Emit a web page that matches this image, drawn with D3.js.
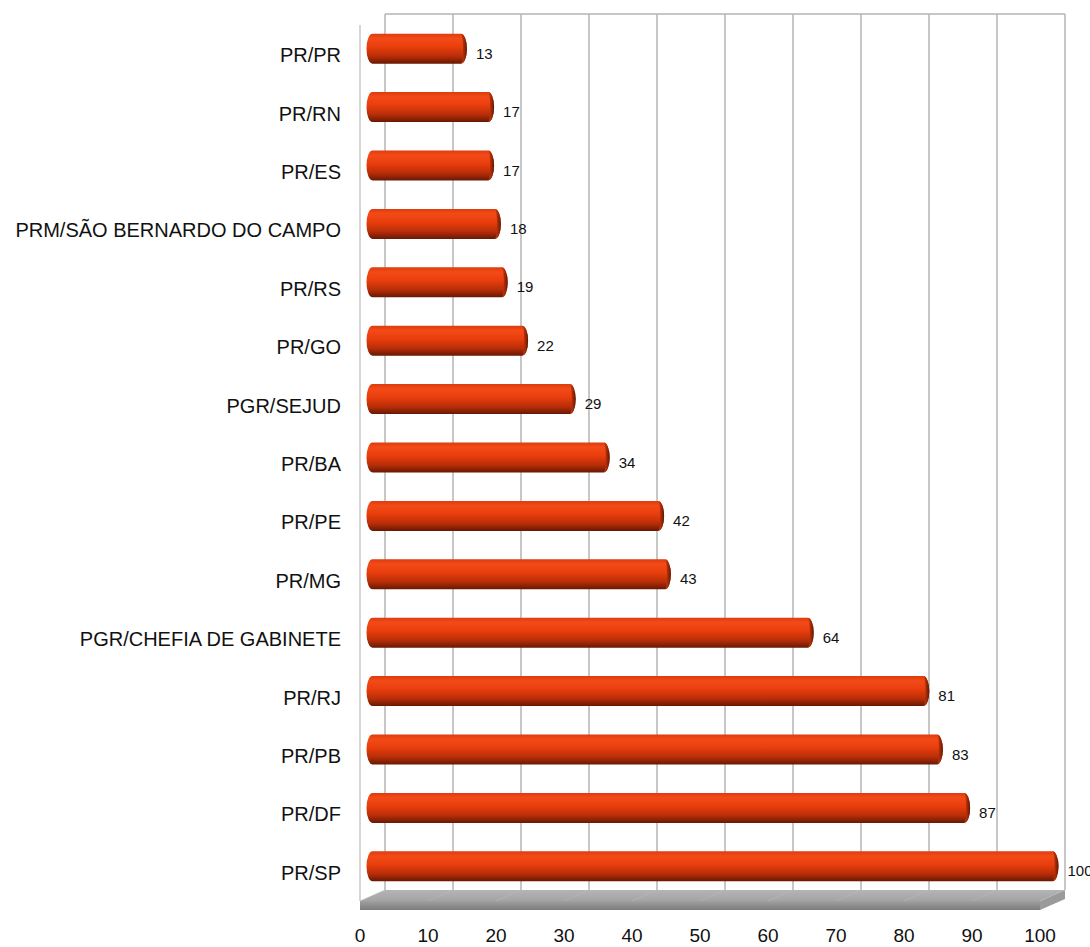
<!DOCTYPE html>
<html><head><meta charset="utf-8">
<script src="https://cdn.jsdelivr.net/npm/d3@7"></script>
<style>body{margin:0;background:#fff}svg{display:block}</style>
</head><body>
<script>
const categories = ["PR/PR","PR/RN","PR/ES","PRM/SÃO BERNARDO DO CAMPO","PR/RS","PR/GO","PGR/SEJUD","PR/BA","PR/PE","PR/MG","PGR/CHEFIA DE GABINETE","PR/RJ","PR/PB","PR/DF","PR/SP"];
const values = [13,17,17,18,19,22,29,34,42,43,64,81,83,87,100];
const ticks = [0,10,20,30,40,50,60,70,80,90,100];

const W = 1090, H = 947;
const svg = d3.select("body").append("svg").attr("width", W).attr("height", H);
const defs = svg.append("defs");

// depth offsets
const DX = 25, DY = -11;
const x = d3.scaleLinear().domain([0,100]).range([360,1040]);
const y = d3.scaleBand().domain(categories).range([25,901]);

const bg = defs.append("linearGradient").attr("id","barG").attr("x1",0).attr("y1",0).attr("x2",0).attr("y2",1);
[["0%","#dc3c0e"],["16%","#f44a18"],["45%","#e83d0c"],["75%","#b82e08"],["100%","#681803"]].forEach(s=>bg.append("stop").attr("offset",s[0]).attr("stop-color",s[1]));
const cg = defs.append("linearGradient").attr("id","capG").attr("x1",0).attr("y1",0).attr("x2",1).attr("y2",0);
[["0%","#d23a0e"],["55%","#a02a08"],["100%","#5e1604"]].forEach(s=>cg.append("stop").attr("offset",s[0]).attr("stop-color",s[1]));
const fg = defs.append("linearGradient").attr("id","floorTop").attr("x1",0).attr("y1",0).attr("x2",0).attr("y2",1);
[["0%","#b4b4b4"],["100%","#a4a4a4"]].forEach(s=>fg.append("stop").attr("offset",s[0]).attr("stop-color",s[1]));
const ff = defs.append("linearGradient").attr("id","floorFront").attr("x1",0).attr("y1",0).attr("x2",0).attr("y2",1);
[["0%","#a0a0a0"],["100%","#7c7c7c"]].forEach(s=>ff.append("stop").attr("offset",s[0]).attr("stop-color",s[1]));

const yTop = y.range()[0], yBot = y.range()[1];
// back wall gridlines
svg.append("g").selectAll("line").data(ticks).join("line")
  .attr("x1", d=>x(d)+DX).attr("x2", d=>x(d)+DX)
  .attr("y1", yTop+DY).attr("y2", yBot+DY)
  .attr("stroke","#b4b4b4").attr("stroke-width",1.5);
svg.append("line").attr("x1",x(0)+DX).attr("x2",x(100)+DX).attr("y1",yTop+DY).attr("y2",yTop+DY)
  .attr("stroke","#b4b4b4").attr("stroke-width",1.5);
// left wall front edge
svg.append("line").attr("x1",x(0)).attr("x2",x(0)).attr("y1",yTop).attr("y2",yBot)
  .attr("stroke","#c8c8c8").attr("stroke-width",1.5);

// floor
const fy = yBot, th = 9;
svg.append("path").attr("fill","url(#floorTop)")
  .attr("d",`M${x(0)+DX},${fy+DY}L${x(100)+DX},${fy+DY}L${x(100)},${fy}L${x(0)},${fy}Z`);
svg.append("path").attr("fill","url(#floorFront)")
  .attr("d",`M${x(0)},${fy}L${x(100)},${fy}L${x(100)},${fy+th}L${x(0)},${fy+th}Z`);
svg.append("path").attr("fill","#9a9a9a")
  .attr("d",`M${x(100)},${fy}L${x(100)+DX},${fy+DY}L${x(100)+DX},${fy+DY+th}L${x(100)},${fy+th}Z`);
svg.append("g").selectAll("line").data(ticks).join("line")
  .attr("x1",d=>x(d)+DX).attr("y1",fy+DY).attr("x2",d=>x(d)).attr("y2",fy)
  .attr("stroke","#bcbcbc").attr("stroke-width",0.8).attr("opacity",0.6);

// bars
const bh = 30, rx = 6, ry = bh/2;
const mx = v => x(v) + DX/2;
const my = c => y(c) + y.bandwidth()/2 + DY/2;
const data = categories.map((c,i)=>({c, v: values[i]}));
const bars = svg.append("g").selectAll("g").data(data).join("g");
bars.append("path").attr("fill","url(#barG)")
  .attr("d", d=>{
    const x0 = mx(0), x1 = mx(d.v), yc = my(d.c);
    return `M${x0},${yc-ry}L${x1},${yc-ry}A${rx},${ry} 0 0 1 ${x1},${yc+ry}L${x0},${yc+ry}A${rx},${ry} 0 0 1 ${x0},${yc-ry}Z`;
  });
bars.append("path").attr("fill","url(#capG)")
  .attr("d", d=>{
    const x1 = mx(d.v), yc = my(d.c);
    return `M${x1},${yc-ry}A${rx},${ry} 0 0 1 ${x1},${yc+ry}A${rx*0.35},${ry} 0 0 0 ${x1},${yc-ry}Z`;
  });
bars.append("text")
  .attr("x", d=>mx(d.v)+rx+9).attr("y", d=>my(d.c)+10)
  .attr("font-family","Liberation Sans, Arial, sans-serif").attr("font-size",15).attr("fill","#111")
  .text(d=>d.v);

// category labels
svg.append("g").selectAll("text").data(categories).join("text")
  .attr("x", 341).attr("y", d=>y(d)+y.bandwidth()/2+8)
  .attr("text-anchor","end")
  .attr("font-family","Liberation Sans, Arial, sans-serif").attr("font-size",20).attr("fill","#111")
  .text(d=>d);

// x axis tick labels
svg.append("g").selectAll("text").data(ticks).join("text")
  .attr("x", d=>x(d)).attr("y", 942).attr("text-anchor","middle")
  .attr("font-family","Liberation Sans, Arial, sans-serif").attr("font-size",19).attr("fill","#111")
  .text(d=>d);
</script>
</body></html>
